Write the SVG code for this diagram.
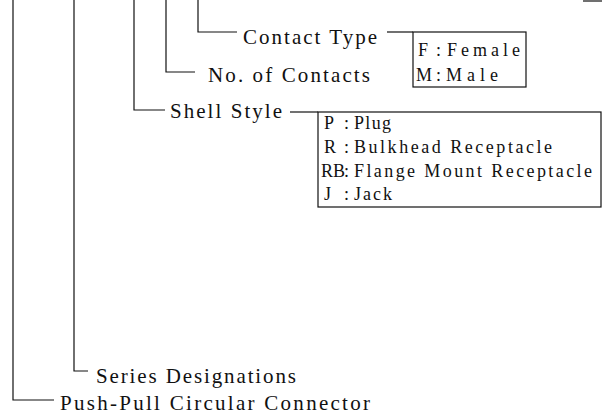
<svg xmlns="http://www.w3.org/2000/svg" width="604" height="416" viewBox="0 0 604 416">
<style>
.ln{fill:none;stroke:#111;stroke-width:1.2}
.t{font-family:"Liberation Serif","DejaVu Serif",serif;fill:#111}
.m{font-size:21px}
.s{font-size:18px}
</style>
<rect width="604" height="416" fill="#fff"/>
<g id="connectors" class="ln">
<path d="M13,0 V400 H54"/>
<path d="M74,0 V371 H88"/>
<path d="M134,0 V110 H165"/>
<path d="M166,0 V72 H195"/>
<path d="M198,0 V32 H237"/>
<path d="M387,32 H413"/>
<path d="M290,112 H318"/>
<path d="M583,1 H602"/>
</g>
<g id="contact-type">
<text class="t m" x="243" y="44" textLength="134" lengthAdjust="spacing">Contact Type</text>
</g>
<g id="contact-type-box">
<rect class="ln" x="413" y="32" width="113" height="55"/>
<text class="t s" x="418" y="56">F</text>
<text class="t s" x="436" y="56">:</text>
<text class="t s" x="447" y="56" textLength="73" lengthAdjust="spacing">Female</text>
<text class="t s" x="416" y="81">M</text>
<text class="t s" x="436" y="81">:</text>
<text class="t s" x="446" y="81" textLength="52" lengthAdjust="spacing">Male</text>
</g>
<g id="no-of-contacts">
<text class="t m" x="208" y="82" textLength="162" lengthAdjust="spacing">No. of Contacts</text>
</g>
<g id="shell-style">
<text class="t m" x="170" y="118" textLength="112" lengthAdjust="spacing">Shell Style</text>
</g>
<g id="shell-style-box">
<rect class="ln" x="318" y="112" width="283" height="95"/>
<text class="t s" x="324" y="129">P</text>
<text class="t s" x="344" y="129">:</text>
<text class="t s" x="354" y="129" textLength="37" lengthAdjust="spacing">Plug</text>
<text class="t s" x="324" y="153">R</text>
<text class="t s" x="344" y="153">:</text>
<text class="t s" x="354" y="153" textLength="198" lengthAdjust="spacing">Bulkhead Receptacle</text>
<text class="t s" x="321" y="177">RB</text>
<text class="t s" x="344" y="177">:</text>
<text class="t s" x="354" y="177" textLength="238" lengthAdjust="spacing">Flange Mount Receptacle</text>
<text class="t s" x="324" y="200">J</text>
<text class="t s" x="344" y="200">:</text>
<text class="t s" x="354" y="200" textLength="38" lengthAdjust="spacing">Jack</text>
</g>
<g id="series-designations">
<text class="t m" x="96" y="383" textLength="200" lengthAdjust="spacing">Series Designations</text>
</g>
<g id="push-pull">
<text class="t m" x="60" y="410" textLength="310" lengthAdjust="spacing">Push-Pull Circular Connector</text>
</g>
</svg>
